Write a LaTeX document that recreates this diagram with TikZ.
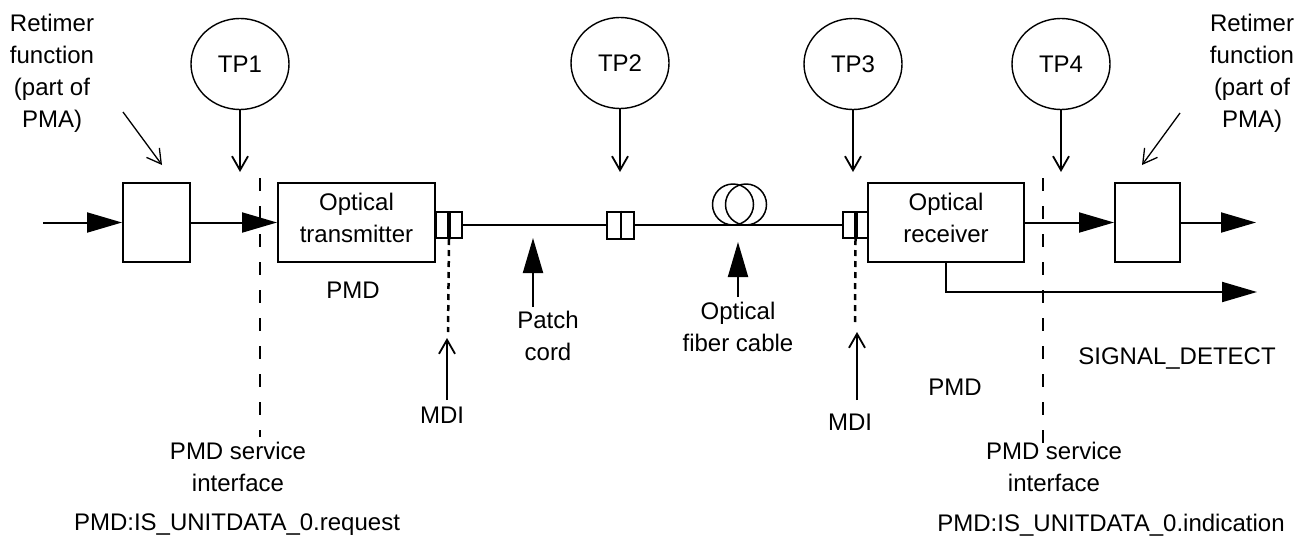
\documentclass[tikz,border=0pt]{standalone}
\usepackage{fontspec}
\setmainfont{Liberation Sans}
\usetikzlibrary{arrows.meta,shapes.geometric}
\begin{document}
\begin{tikzpicture}[x=1pt,y=-1pt,
  lbl/.style={font=\fontsize{24}{32}\selectfont, align=center, inner sep=0pt},
  blk/.style={draw, line width=2pt, inner sep=0pt},
  tp/.style={ellipse, draw, line width=1.4pt, minimum width=98pt, minimum height=91pt, inner sep=0pt, font=\fontsize{24}{32}\selectfont},
  big/.style={line width=2pt, -{Triangle[length=35pt,width=20pt]}},
  openarr/.style={line width=1.8pt, -{Straight Barb[length=14pt,width=16pt]}},
  thinarr/.style={line width=1.3pt, -{Straight Barb[length=14pt,width=16pt]}},
  svc/.style={line width=2pt, dash pattern=on 13pt off 15pt},
  mdiline/.style={line width=2.5pt, dash pattern=on 6pt off 5pt},
]
\useasboundingbox (0,0) rectangle (1308,541);

% boxes
\node[blk, minimum width=67pt, minimum height=79pt] (lrt) at (156.5,222.5) {};
\node[blk, minimum width=157pt, minimum height=79pt] (tx) at (356.5,222.5) {};
\node[lbl] (txl) at ([yshift=5pt]tx.center) {Optical\\transmitter};
\node[blk, minimum width=156pt, minimum height=79pt] (rx) at (946,222.5) {};
\node[lbl] (rxl) at ([yshift=5pt]rx.center) {Optical\\receiver};
\node[blk, minimum width=65pt, minimum height=79pt] (rrt) at (1147.5,222.5) {};

% connectors
\node[blk, minimum width=26pt, minimum height=26pt] (c1) at (449,225) {};
\draw[line width=4pt] (c1.north) -- (c1.south);
\node[blk, minimum width=27pt, minimum height=27pt] (c2) at (620.5,225) {};
\draw[line width=2pt] (c2.north) -- (c2.south);
\node[blk, minimum width=25pt, minimum height=26pt] (c3) at (855.5,225) {};
\draw[line width=4pt] (c3.north) -- (c3.south);

% fiber
\draw[line width=2pt] (c1.east) -- (c2.west);
\draw[line width=2pt] (c2.east) -- (c3.west);
\node[circle, draw, line width=1.5pt, minimum size=41pt, inner sep=0pt] (coilA) at (733,204.5) {};
\node[circle, draw, line width=1.5pt, minimum size=41pt, inner sep=0pt] (coilB) at (746,204.5) {};

% main signal arrows
\coordinate (in) at (43,222.5);
\coordinate (out) at (1256,222.5);
\coordinate (sd) at (1257,292);
\draw[big] (in) -- (lrt.west);
\draw[big] (lrt.east) -- (tx.west);
\draw[big] (rx.east) -- (rrt.west);
\draw[big] (rrt.east) -- (out);
\draw[big] (rx.south) |- (sd);

% test points
\node[tp] (tp1) at (240,64) {TP1};
\node[tp] (tp2) at (620,63) {TP2};
\node[tp] (tp3) at (853,64) {TP3};
\node[tp] (tp4) at (1061,64) {TP4};
\coordinate (tp1e) at (240,172);
\coordinate (tp2e) at (620,172);
\coordinate (tp3e) at (853,172);
\coordinate (tp4e) at (1061,172);
\draw[openarr] (tp1) -- (tp1e);
\draw[openarr] (tp2) -- (tp2e);
\draw[openarr] (tp3) -- (tp3e);
\draw[openarr] (tp4) -- (tp4e);

% service interface lines
\coordinate (s1t) at (260,178);
\coordinate (s1b) at (260,437);
\coordinate (s4t) at (1043,178);
\coordinate (s4b) at (1043,445);
\draw[svc] (s1t) -- (s1b);
\draw[svc] (s4t) -- (s4b);

% MDI
\coordinate (m1b) at (448,332);
\coordinate (m3b) at (855,322);
\draw[mdiline] (c1.south) -- (m1b);
\draw[mdiline] (c3.south) -- (m3b);
\node[lbl] (mdi1) at (442,415) {MDI};
\node[lbl] (mdi3) at (850,422) {MDI};
\coordinate (m1s) at (447,400);
\coordinate (m1e) at (447,338);
\coordinate (m3s) at (857,400);
\coordinate (m3e) at (857,332);
\draw[openarr] (m1s) -- (m1e);
\draw[openarr] (m3s) -- (m3e);

% patch cord / fiber cable
\node[lbl] (pcl) at (548,336) {Patch\\cord};
\coordinate (pcs) at (533,307);
\coordinate (pce) at (533,238);
\draw[big] (pcs) -- (pce);
\node[lbl] (fcl) at (738,327) {Optical\\fiber cable};
\coordinate (fcs) at (738,297);
\coordinate (fce) at (738,242);
\draw[big] (fcs) -- (fce);

% retimer labels
\node[lbl] (rtl) at (52,73) {Retimer\\function\\(part of\\PMA)};
\node[lbl] (rtr) at (1252,73) {Retimer\\function\\(part of\\PMA)};
\coordinate (dls) at (123,112);
\coordinate (dle) at (162,165);
\coordinate (drs) at (1180,113);
\coordinate (dre) at (1142,165);
\draw[thinarr] (dls) -- (dle);
\draw[thinarr] (drs) -- (dre);

% other labels
\node[lbl] (pmdl) at (353,290) {PMD};
\node[lbl] (pmdr) at (955,387) {PMD};
\node[lbl] (sig) at (1177,358) {SIGNAL\_DETECT};
\node[lbl] (svl) at (238,467) {PMD service\\interface};
\node[lbl] (svr) at (1054,467) {PMD service\\interface};
\node[lbl] (req) at (237,525) {PMD:IS\_UNITDATA\_0.request};
\node[lbl] (ind) at (1111,525) {PMD:IS\_UNITDATA\_0.indication};
\end{tikzpicture}
\end{document}
